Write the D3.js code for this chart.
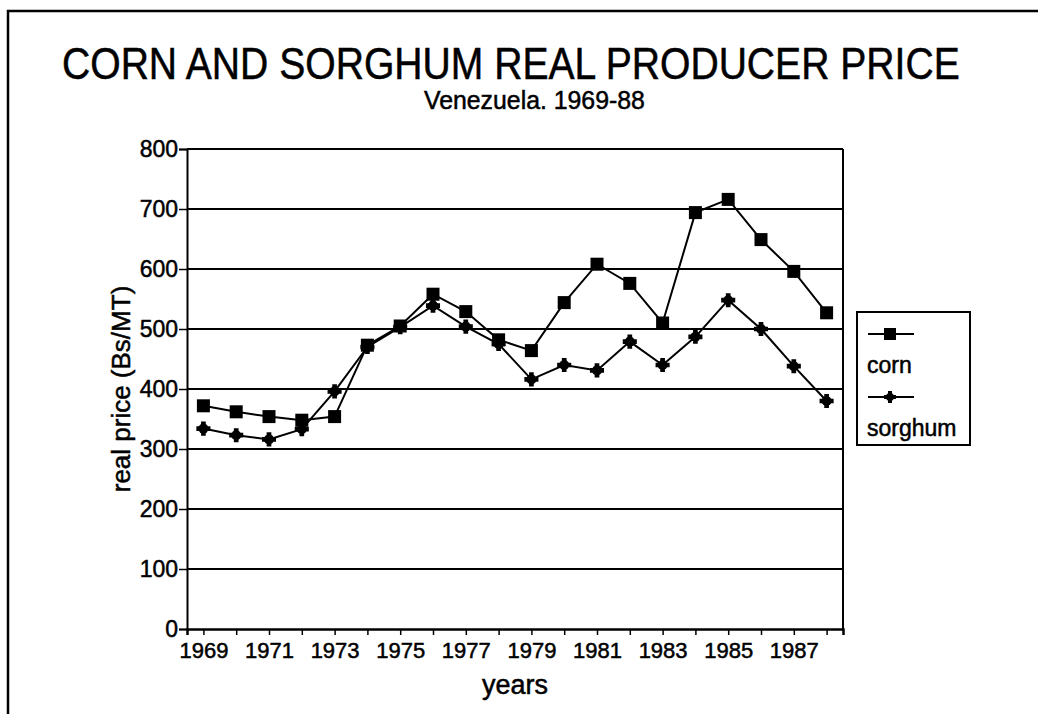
<!DOCTYPE html>
<html>
<head>
<meta charset="utf-8">
<script src="https://cdn.jsdelivr.net/npm/d3@7"></script>
<style>
  html, body { margin: 0; padding: 0; background: #fff; }
  svg { display: block; font-family: "Liberation Sans", Arial, Helvetica, sans-serif; }
  svg text { fill: #000; stroke: #000; stroke-width: 0.5px; }
</style>
</head>
<body>
<div id="chart"></div>
<script>
// data
const years = [1969, 1970, 1971, 1972, 1973, 1974, 1975, 1976, 1977, 1978,
               1979, 1980, 1981, 1982, 1983, 1984, 1985, 1986, 1987, 1988];
const corn = [372, 362, 354, 348, 354, 473, 505, 558, 529, 482,
              464, 544, 608, 576, 510, 694, 716, 649, 596, 527];
const sorghum = [334, 323, 316, 333, 396, 470, 503, 539, 504, 475,
                 416, 440, 431, 479, 440, 487, 548, 500, 438, 380];
const yTicks = [0, 100, 200, 300, 400, 500, 600, 700, 800];
const seriesNames = ["corn", "sorghum"];

const W = 1038, H = 714;
const plot = { left: 187, right: 843, top: 149, bottom: 629 };

const svg = d3.select("#chart").append("svg")
    .attr("width", W)
    .attr("height", H);

// outer frame (only top and left edges show in the scan)
svg.append("path")
    .attr("d", `M8,${H} L8,11 L${W},11`)
    .attr("fill", "none")
    .attr("stroke", "#000")
    .attr("stroke-width", 2.5);

// titles: squeeze horizontally to the narrow face of the original
function squeezed(txt, x0, y0, size, width) {
    const t = svg.append("text")
        .style("font-size", size + "px")
        .text(txt);
    const natural = t.node().getComputedTextLength();
    t.attr("transform", `translate(${x0},${y0}) scale(${width / natural},1)`);
    return t;
}
squeezed("CORN AND SORGHUM REAL PRODUCER PRICE", 62, 79, 44, 898);
squeezed("Venezuela. 1969-88", 424, 109, 25, 221);

const x = d3.scalePoint()
    .domain(years)
    .range([plot.left, plot.right])
    .padding(0.5);

const y = d3.scaleLinear()
    .domain([0, 800])
    .range([plot.bottom, plot.top]);

// horizontal grid lines
svg.append("g")
    .selectAll("line")
    .data(yTicks.filter(d => d > 0))
    .enter().append("line")
    .attr("x1", plot.left).attr("x2", plot.right)
    .attr("y1", d => y(d)).attr("y2", d => y(d))
    .attr("stroke", "#000")
    .attr("stroke-width", 2);

// right border of the plot
svg.append("line")
    .attr("x1", plot.right).attr("x2", plot.right)
    .attr("y1", plot.top).attr("y2", plot.bottom)
    .attr("stroke", "#000")
    .attr("stroke-width", 2);

// y axis
const yAxis = svg.append("g")
    .attr("transform", `translate(${plot.left},0)`)
    .call(d3.axisLeft(y).tickValues(yTicks).tickSize(8).tickPadding(1));
yAxis.select(".domain").attr("stroke-width", 2);
yAxis.selectAll(".tick line").attr("stroke-width", 1.5);
yAxis.selectAll("text")
    .style("font-size", "23px")
    .style("font-family", "'Liberation Sans', Arial, sans-serif");

// x axis
const xAxis = svg.append("g")
    .attr("transform", `translate(0,${plot.bottom})`)
    .call(d3.axisBottom(x).tickSize(6).tickPadding(7)
        .tickFormat(d => (d - 1969) % 2 === 0 ? d : ""));
xAxis.select(".domain").attr("stroke-width", 2.5);
xAxis.selectAll(".tick line").attr("stroke-width", 1.5);
xAxis.selectAll("text")
    .style("font-size", "22px")
    .style("font-family", "'Liberation Sans', Arial, sans-serif");

// axis titles
svg.append("text")
    .attr("transform", `translate(130,${(plot.top + plot.bottom) / 2}) rotate(-90)`)
    .attr("text-anchor", "middle")
    .style("font-size", "26px")
    .text("real price (Bs/MT)");

svg.append("text")
    .attr("x", 515).attr("y", 694)
    .attr("text-anchor", "middle")
    .style("font-size", "27px")
    .text("years");

// series
const line = d3.line()
    .x((d, i) => x(years[i]))
    .y(d => y(d));

const cross = d3.symbol().type(d3.symbolCross).size(110);

svg.append("path")
    .datum(corn)
    .attr("d", line)
    .attr("fill", "none")
    .attr("stroke", "#000")
    .attr("stroke-width", 2);

svg.append("path")
    .datum(sorghum)
    .attr("d", line)
    .attr("fill", "none")
    .attr("stroke", "#000")
    .attr("stroke-width", 2);

svg.append("g")
    .selectAll("rect")
    .data(corn)
    .enter().append("rect")
    .attr("x", (d, i) => x(years[i]) - 6.5)
    .attr("y", d => y(d) - 6.5)
    .attr("width", 13)
    .attr("height", 13)
    .attr("fill", "#000");

const sMarks = svg.append("g")
    .selectAll("g")
    .data(sorghum)
    .enter().append("g")
    .attr("transform", (d, i) => `translate(${x(years[i])},${y(d)})`);
sMarks.append("path").attr("d", cross).attr("fill", "#000");
sMarks.append("circle").attr("r", 5).attr("fill", "#000");

// legend
const legend = svg.append("g");
legend.append("rect")
    .attr("x", 857).attr("y", 312)
    .attr("width", 113).attr("height", 133)
    .attr("fill", "#fff")
    .attr("stroke", "#000")
    .attr("stroke-width", 2);

const legendRows = [334, 397];
seriesNames.forEach((name, i) => {
    const ly = legendRows[i];
    legend.append("line")
        .attr("x1", 868).attr("x2", 914)
        .attr("y1", ly).attr("y2", ly)
        .attr("stroke", "#000").attr("stroke-width", 2);
    if (i === 0) {
        legend.append("rect")
            .attr("x", 884).attr("y", ly - 6)
            .attr("width", 12).attr("height", 12)
            .attr("fill", "#000");
    } else {
        legend.append("path")
            .attr("transform", `translate(890,${ly})`)
            .attr("d", d3.symbol().type(d3.symbolCross).size(80))
            .attr("fill", "#000");
        legend.append("circle")
            .attr("cx", 890).attr("cy", ly).attr("r", 4)
            .attr("fill", "#000");
    }
    legend.append("text")
        .attr("x", 867).attr("y", ly + 39)
        .style("font-size", "23px")
        .text(name);
});
</script>
</body>
</html>
